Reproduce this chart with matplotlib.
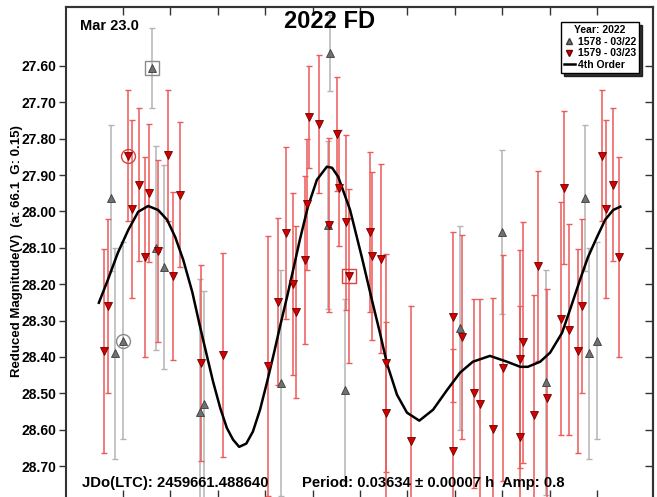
import numpy as np
import matplotlib
matplotlib.use('Agg')
import matplotlib.pyplot as plt
from matplotlib.lines import Line2D

plt.rcParams['font.family'] = ['Liberation Sans', 'DejaVu Sans']
plt.rcParams['font.weight'] = 'bold'

# Sesion 1578 - 03/22 (triangulos grises)
g_phase = [0.975, 0.983, 0.000, 0.061, 0.070, 0.086, 0.162, 0.171, 0.333,
           0.437, 0.432, 0.468, 0.711, 0.800, 0.892]
g_mag = [27.963, 28.390, 28.355, 27.605, 28.100, 28.152, 28.550, 28.528, 28.471,
         27.565, 28.037, 28.490, 28.320, 28.056, 28.470]
g_err = [0.20, 0.29, 0.27, 0.11, 0.28, 0.28, 0.365, 0.31, 0.31,
         0.105, 0.23, 0.25, 0.28, 0.225, 0.31]

# Sesion 1579 - 03/23 (triangulos rojos)
r_phase = [0.011, 0.019, 0.034, 0.046, 0.055, 0.074, 0.095, 0.105, 0.120, 0.165,
           0.211, 0.306, 0.327, 0.344, 0.359, 0.365, 0.384, 0.388, 0.392, 0.414,
           0.435, 0.451, 0.456, 0.470, 0.477, 0.521, 0.525, 0.544, 0.555, 0.555,
           0.608, 0.696, 0.696, 0.715, 0.741, 0.753, 0.781, 0.802, 0.838, 0.838,
           0.844, 0.867, 0.876, 0.895, 0.924, 0.930, 0.941, 0.960, 0.968]
r_mag = [27.847, 27.993, 27.927, 28.125, 27.949, 28.108, 27.845, 28.177, 27.954, 28.416,
         28.394, 28.424, 28.248, 28.060, 28.200, 28.276, 28.133, 27.980, 27.740, 27.760,
         28.037, 27.787, 27.935, 28.030, 28.177, 28.056, 28.122, 28.130, 28.416, 28.553,
         28.630, 28.290, 28.658, 28.345, 28.500, 28.530, 28.597, 28.430, 28.405, 28.620,
         28.360, 28.560, 28.150, 28.512, 28.295, 27.935, 28.325, 28.383, 28.260]
r_err = [0.18, 0.245, 0.21, 0.275, 0.19, 0.25, 0.18, 0.23, 0.20, 0.27,
         0.28, 0.357, 0.23, 0.236, 0.25, 0.236, 0.23, 0.18, 0.14, 0.19,
         0.24, 0.157, 0.16, 0.24, 0.24, 0.22, 0.23, 0.26, 0.30, 0.25,
         0.37, 0.233, 0.28, 0.28, 0.26, 0.29, 0.36, 0.31, 0.30, 0.36,
         0.33, 0.33, 0.26, 0.30, 0.32, 0.21, 0.29, 0.28, 0.24]

# Curva de Fourier de 4o orden
fit_phase = [-0.051, -0.032, -0.011, 0.011, 0.032, 0.053, 0.074, 0.093, 0.110, 0.127,
             0.146, 0.162, 0.175, 0.190, 0.205, 0.219, 0.232, 0.245, 0.260, 0.274,
             0.289, 0.304, 0.319, 0.331, 0.346, 0.359, 0.373, 0.390, 0.409, 0.430,
             0.441, 0.454, 0.479, 0.504, 0.525, 0.542, 0.557, 0.578, 0.599, 0.625,
             0.654, 0.684, 0.711, 0.738, 0.774, 0.810, 0.838, 0.854, 0.880, 0.901,
             0.926, 0.943, 0.964, 0.981, 1.000, 1.017, 1.034, 1.049]
fit_mag = [28.251, 28.188, 28.114, 28.051, 28.001, 27.985, 27.996, 28.023, 28.070, 28.133,
           28.221, 28.314, 28.386, 28.468, 28.540, 28.595, 28.627, 28.647, 28.638, 28.605,
           28.545, 28.468, 28.386, 28.317, 28.235, 28.160, 28.078, 27.987, 27.913, 27.877,
           27.880, 27.905, 27.996, 28.127, 28.243, 28.334, 28.419, 28.504, 28.553, 28.575,
           28.545, 28.490, 28.443, 28.413, 28.397, 28.413, 28.427, 28.427, 28.413, 28.388,
           28.334, 28.270, 28.188, 28.125, 28.070, 28.023, 27.996, 27.987]

# Puntos marcados (circulo / cuadrado)
g_circle, g_square = [2], [3]
r_circle, r_square = [0], [24]

y_ticks = [27.60, 27.70, 27.80, 27.90, 28.00, 28.10, 28.20, 28.30, 28.40, 28.50, 28.60, 28.70]
x_ticks = [0.0, 0.1, 0.2, 0.3, 0.4, 0.5, 0.6, 0.7, 0.8, 0.9, 1.0]


def wrap(phase, mag, err):
    # repetir los puntos cerca de los bordes (rango -0.05 .. 1.05)
    p, m, e = np.array(phase), np.array(mag), np.array(err)
    xs, ms, es = [p], [m], [e]
    for shift in (-1, 1):
        q = p + shift
        keep = (q >= -0.05) & (q <= 1.05)
        xs.append(q[keep]); ms.append(m[keep]); es.append(e[keep])
    return np.concatenate(xs), np.concatenate(ms), np.concatenate(es)


fig = plt.figure(figsize=(6.57, 4.97), dpi=100)
ax = fig.add_axes([66 / 657, -0.006, 587 / 657, 0.992])

gx, gm, ge = wrap(g_phase, g_mag, g_err)
rx, rm, re_ = wrap(r_phase, r_mag, r_err)

ax.errorbar(gx, gm, yerr=ge, fmt='none', ecolor='#b4b4b4', elinewidth=1.1,
            capsize=2.5, capthick=1, zorder=2)
ax.errorbar(rx, rm, yerr=re_, fmt='none', ecolor='#ec5a5a', elinewidth=1.1,
            capsize=2.5, capthick=1, zorder=2)

ax.plot(fit_phase, fit_mag, color='black', lw=1.8, zorder=3)

ax.plot(gx, gm, linestyle='none', marker='^', ms=6, mfc='#707070', mec='#3c3c3c',
        mew=0.6, zorder=4)
ax.plot(rx, rm, linestyle='none', marker='v', ms=6, mfc='#d40000', mec='#6a0000',
        mew=0.6, zorder=4)

# marcas alrededor de algunos puntos
ax.plot([g_phase[i] for i in g_circle], [g_mag[i] for i in g_circle], 'o', ms=10,
        mfc='none', mec='#8a8a8a', mew=1, zorder=5)
ax.plot([g_phase[i] for i in g_square], [g_mag[i] for i in g_square], 's', ms=10,
        mfc='none', mec='#8a8a8a', mew=1, zorder=5)
ax.plot([r_phase[i] for i in r_circle], [r_mag[i] for i in r_circle], 'o', ms=10,
        mfc='none', mec='#e04040', mew=1, zorder=5)
ax.plot([r_phase[i] for i in r_square], [r_mag[i] for i in r_square], 's', ms=10,
        mfc='none', mec='#e04040', mew=1, zorder=5)

# Ejes
ax.set_xlim(-0.1203, 1.118)
ax.set_ylim(28.793, 27.438)
ax.set_yticks(y_ticks)
ax.set_yticklabels([f'{v:.2f}' for v in y_ticks])
ax.tick_params(axis='y', direction='out', length=5, width=1, labelsize=10, pad=2,
               colors='#333333', labelcolor='black')
ax.set_xticks(x_ticks)
ax.tick_params(axis='x', direction='in', length=7, width=1, labelbottom=False,
               colors='#333333')
for s in ax.spines.values():
    s.set_color('#333333')
    s.set_linewidth(1.5)

sec_y = ax.secondary_yaxis('right')
sec_y.set_yticks(y_ticks)
sec_y.tick_params(direction='in', length=6, width=1, labelright=False, colors='#333333')
sec_y.spines['right'].set_linewidth(1.5)
sec_y.spines['right'].set_color('#333333')
sec_x = ax.secondary_xaxis('top')
sec_x.set_xticks(x_ticks)
sec_x.tick_params(direction='in', length=6, width=1, labeltop=False, colors='#333333')
sec_x.spines['top'].set_linewidth(1.5)
sec_x.spines['top'].set_color('#333333')

# Textos
fig.text(80 / 657, 1 - 26 / 497, 'Mar 23.0', fontsize=10.5, ha='left', va='center')
fig.text(330 / 657, 1 - 22 / 497, '2022 FD', fontsize=17, ha='center', va='center')
fig.text(17 / 657, 1 - 251 / 497, 'Reduced Magnitude(V)  (a: 66.1  G: 0.15)',
         fontsize=9.5, rotation=90, ha='center', va='center')
fig.text(82 / 657, 1 - 483 / 497, 'JDo(LTC): 2459661.488640', fontsize=10.7,
         ha='left', va='center')
fig.text(302 / 657, 1 - 483 / 497, 'Period: 0.03634 \u00b1 0.00007 h  Amp: 0.8',
         fontsize=10.7, ha='left', va='center')

# Leyenda
handles = [Line2D([], [], linestyle='none', marker='^', ms=5, mfc='#707070', mec='#3c3c3c'),
           Line2D([], [], linestyle='none', marker='v', ms=5, mfc='#d40000', mec='#6a0000'),
           Line2D([], [], color='black', lw=1.8)]
leg = ax.legend(handles, ['1578 - 03/22', '1579 - 03/23', '4th Order'],
                title='Year: 2022', loc='upper right',
                bbox_to_anchor=(1 - 14 / 587, 1 - 15 / 493),
                prop={'size': 7.5, 'weight': 'bold'}, title_fontproperties={'size': 7.5, 'weight': 'bold'},
                frameon=True, fancybox=False, shadow={'color': 'black', 'alpha': 0.8},
                edgecolor='black', handlelength=1.0, handletextpad=0.3,
                borderpad=0.3, labelspacing=0.15, borderaxespad=0)
leg.get_frame().set_linewidth(1)
leg.set_zorder(10)

fig.savefig('out.png', dpi=100)
